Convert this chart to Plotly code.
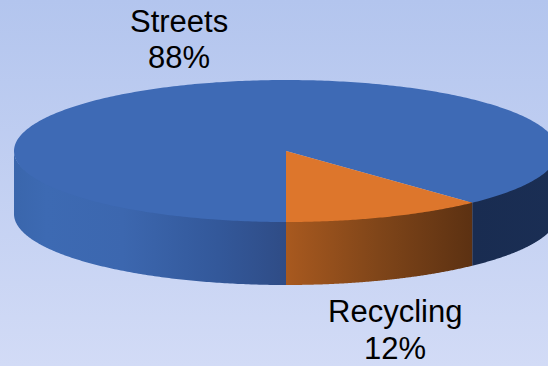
import numpy as np
import plotly.graph_objects as go

categories = ["Streets", "Recycling"]
values = [88, 12]
top_colors = ["#3e6ab5", "#dd762c"]

W, H = 548, 366
CX, CY, RX, RY, DEPTH = 286, 151, 272, 71, 63
FONT = "Liberation Sans, Arial, sans-serif"

fig = go.Figure()


def ring(t0, t1, n=160, ry=RY):
    t = np.radians(np.linspace(t0, t1, n))
    return CX + RX * np.cos(t), CY + ry * np.sin(t)


def poly(x, y, color=None, gradient=None):
    kw = dict(x=list(x), y=list(y), mode="none", fill="toself",
              hoverinfo="skip", showlegend=False)
    if gradient:
        kw["fillgradient"] = gradient
        kw["fillcolor"] = "rgba(0,0,0,0)"
    else:
        kw["fillcolor"] = color
    fig.add_trace(go.Scatter(**kw))


def wall(t0, t1, stops):
    x, y = ring(t0, t1)
    _, y_up = ring(t0, t1, ry=RY - 3)
    px = np.concatenate([x, x[::-1]])
    py = np.concatenate([y_up, y[::-1] + DEPTH])
    poly(px, py, gradient=dict(type="horizontal", colorscale=stops))


# page background
poly([0, W, W, 0], [0, 0, H, H],
     gradient=dict(type="vertical",
                   colorscale=[[0, "#d2dbf6"], [1, "#b3c5ee"]]))

# slice angles: Recycling ends at the front (90 deg on screen) and runs back
total = sum(values)
sweep = [v / total * 360 for v in values]
split = 90 - sweep[1]

# side walls
wall(0, split, [[0, "#192c51"], [1, "#1a2e54"]])
wall(split, 90, [[0, "#a8591f"], [0.5, "#7f4519"], [1, "#5c3112"]])
wall(90, 180, [[0, "#3a66ac"], [0.12, "#3d6ab3"], [0.4, "#3c67af"],
               [0.75, "#33589a"], [1, "#2f4c86"]])

# top faces
x, y = ring(90, 90 + sweep[0], 400)
poly(np.r_[CX, x], np.r_[CY, y], top_colors[0])
x, y = ring(split, 90, 80)
poly(np.r_[CX, x], np.r_[CY, y], top_colors[1])

# labels, each line placed on its own to keep the reference's line pitch
label_lines = [(c, f"{round(v / total * 100)}%") for c, v in zip(categories, values)]
label_x = [179, 395]
label_y = [(21, 57), (311, 348)]
for lines, lx, ys in zip(label_lines, label_x, label_y):
    for text, ly in zip(lines, ys):
        fig.add_annotation(x=lx, y=ly, text=text, showarrow=False, xref="x", yref="y",
                           align="center", font=dict(family=FONT, size=31, color="#000000"))

fig.update_layout(
    width=W, height=H, margin=dict(l=0, r=0, t=0, b=0),
    paper_bgcolor="#c2cff2", plot_bgcolor="rgba(0,0,0,0)",
    xaxis=dict(range=[0, W], visible=False, fixedrange=True),
    yaxis=dict(range=[H, 0], visible=False, fixedrange=True),
)
fig.write_html("out.html", config=dict(displayModeBar=False),
               post_script="document.body.style.margin='0';document.body.style.overflow='hidden';")
